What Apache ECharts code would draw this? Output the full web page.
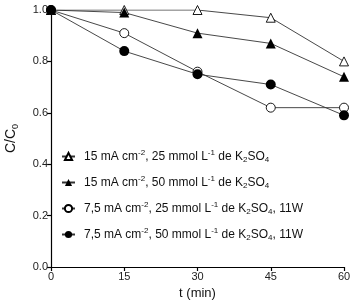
<!DOCTYPE html>
<html>
<head>
<meta charset="utf-8">
<script src="https://cdn.jsdelivr.net/npm/echarts@6/dist/echarts.min.js"></script>
<style>
  html, body { margin: 0; padding: 0; background: #fff; }
  #chart { width: 360px; height: 306px; }
</style>
</head>
<body>
<div id="chart"></div>
<script>
// 数据
const times = [0, 15, 30, 45, 60];
const xTicks = [0, 15, 30, 45, 60];
const yTicks = [0.0, 0.2, 0.4, 0.6, 0.8, 1.0];
const s15_25 = [1.00, 1.00, 1.00, 0.97, 0.80];
const s15_50 = [1.00, 0.99, 0.91, 0.87, 0.74];
const s75_25 = [1.00, 0.91, 0.76, 0.62, 0.62];
const s75_50 = [1.00, 0.84, 0.75, 0.71, 0.59];

// 图例文字 (rich text)
const legendNames = [
  '{n|15 mA cm}{sup|-2}{n|, 25 mmol L}{sup|-1}{n| de K}{sub|2}{n|SO}{sub|4}',
  '{n|15 mA cm}{sup|-2}{n|, 50 mmol L}{sup|-1}{n| de K}{sub|2}{n|SO}{sub|4}',
  '{n|7,5 mA cm}{sup|-2}{n|, 25 mmol L}{sup|-1}{n| de K}{sub|2}{n|SO}{sub|4}{n|, 11W}',
  '{n|7,5 mA cm}{sup|-2}{n|, 50 mmol L}{sup|-1}{n| de K}{sub|2}{n|SO}{sub|4}{n|, 11W}'
];

const font = 'Liberation Sans, Arial, sans-serif';
const richText = {
  n: { fontSize: 12, lineHeight: 15, color: '#111', fontFamily: font },
  sup: { fontSize: 8, lineHeight: 15, verticalAlign: 'top', color: '#111', fontFamily: font },
  sub: { fontSize: 8, lineHeight: 15, verticalAlign: 'bottom', color: '#111', fontFamily: font }
};

const pair = (vals) => times.map((t, i) => [t, vals[i]]);

const mkSeries = (name, vals, symbol, filled, size) => ({
  name: name,
  type: 'line',
  data: pair(vals),
  symbol: symbol,
  symbolSize: size,
  lineStyle: { color: '#333', width: 0.9 },
  itemStyle: {
    color: filled ? '#000' : '#fff',
    borderColor: '#000',
    borderWidth: filled ? 0 : 0.9
  },
  emphasis: { disabled: true },
  animation: false
});

const chart = echarts.init(document.getElementById('chart'), null, { renderer: 'canvas' });

const option = {
  backgroundColor: '#fff',
  animation: false,
  grid: { left: 51, right: 16, top: 10, bottom: 39, containLabel: false, outerBoundsMode: 'none' },
  legend: {
    orient: 'vertical',
    left: 56,
    top: 144,
    itemWidth: 13,
    itemHeight: 9,
    itemGap: 11,
    data: legendNames,
    textStyle: { rich: richText, fontSize: 12, fontFamily: font, color: '#111', padding: [0, 0, 0, 4] }
  },
  xAxis: {
    type: 'value',
    min: 0,
    max: 60,
    interval: 15,
    name: 't (min)',
    nameLocation: 'middle',
    nameGap: 19,
    nameTextStyle: { fontSize: 13, fontFamily: font, color: '#111' },
    axisLine: { lineStyle: { color: '#000', width: 1.2 } },
    axisTick: { length: 4, lineStyle: { color: '#000', width: 1.2 } },
    axisLabel: { fontSize: 11, fontFamily: font, color: '#222', margin: 4,
      formatter: (v) => xTicks.includes(v) ? String(v) : '' },
    splitLine: { show: false }
  },
  yAxis: {
    type: 'value',
    min: 0,
    max: 1,
    interval: 0.2,
    name: '{n|C/C}{s|0}',
    nameLocation: 'middle',
    nameGap: 31,
    nameRotate: 90,
    nameTextStyle: {
      rich: {
        n: { fontSize: 14, fontFamily: font, color: '#111', lineHeight: 18 },
        s: { fontSize: 9, fontFamily: font, color: '#111', lineHeight: 18, verticalAlign: 'bottom' }
      }
    },
    axisLine: { show: true, lineStyle: { color: '#000', width: 1.2 } },
    axisTick: { show: true, length: 4, lineStyle: { color: '#000', width: 1.2 } },
    axisLabel: { fontSize: 11, fontFamily: font, color: '#222', margin: 3,
      formatter: (v) => yTicks.some(t => Math.abs(t - v) < 1e-6) ? v.toFixed(1) : '' },
    splitLine: { show: false }
  },
  series: [
    mkSeries(legendNames[0], s15_25, 'triangle', false, 9),
    mkSeries(legendNames[1], s15_50, 'triangle', true, 10),
    mkSeries(legendNames[2], s75_25, 'circle', false, 9),
    mkSeries(legendNames[3], s75_50, 'circle', true, 10)
  ]
};

chart.setOption(option);
</script>
</body>
</html>
